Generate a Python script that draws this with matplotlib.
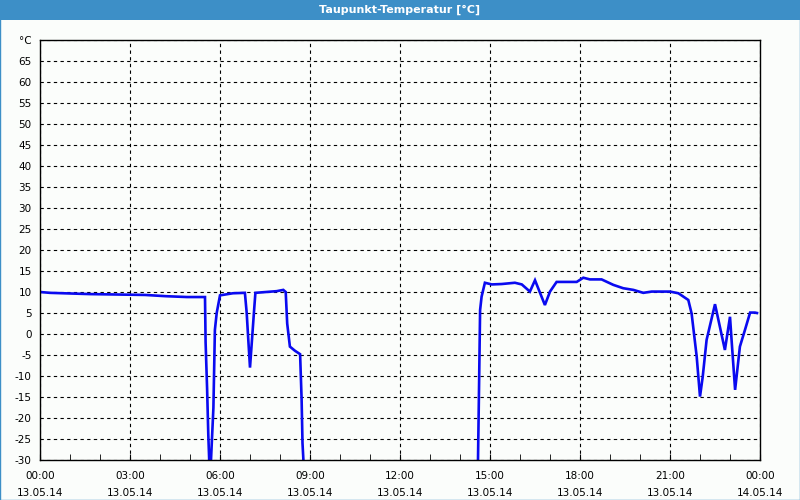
import matplotlib
matplotlib.use("Agg")
import matplotlib.pyplot as plt
from matplotlib.patches import Rectangle
import numpy as np

title = "Taupunkt-Temperatur [°C]"

# segment 1 (hours, °C)
seg1_h = [0.0, 0.33, 1.67, 3.5, 4.2, 4.9, 5.5, 5.52, 5.57, 5.61, 5.64, 5.67,
          5.70, 5.78, 5.83, 5.89, 6.0, 6.43, 6.83, 6.89, 6.94, 7.0, 7.08, 7.14, 7.18,
          7.89, 8.11, 8.19, 8.24, 8.33, 8.5, 8.67, 8.72, 8.75, 8.78, 8.82]
seg1_v = [10.0, 9.8, 9.5, 9.3, 9.0, 8.8, 8.8, -2.0, -13.0, -24.0, -30.0, -40.0,
          -30.0, -17.6, 1.0, 5.0, 9.2, 9.7, 9.8, 5.0, -1.0, -8.0, 0.0, 6.0, 9.8,
          10.2, 10.5, 10.0, 2.5, -3.0, -4.0, -4.8, -15.5, -26.0, -30.0, -40.0]

# segment 2
seg2_h = [14.55, 14.6, 14.63, 14.67, 14.72, 14.83, 15.06, 15.39, 15.83, 16.06, 16.33,
          16.5, 16.83, 17.0, 17.22, 17.89, 18.11, 18.33, 18.72, 19.11, 19.44, 19.78,
          20.11, 20.39, 21.0, 21.28, 21.61, 21.72, 21.89, 22.0, 22.09, 22.22, 22.5,
          22.83, 23.0, 23.06, 23.17, 23.33, 23.5, 23.67, 23.83, 23.9]
seg2_v = [-40.0, -30.0, -15.0, 5.7, 8.9, 12.2, 11.8, 11.9, 12.2, 11.8, 10.1,
          12.8, 6.9, 10.1, 12.4, 12.4, 13.4, 13.0, 13.0, 11.7, 10.9, 10.5,
          9.8, 10.1, 10.1, 9.7, 8.1, 4.9, -5.4, -14.9, -10.2, -1.4, 7.1,
          -3.8, 4.1, -2.2, -13.3, -3.0, 1.0, 5.1, 5.1, 5.0]

y_ticks = list(range(-30, 71, 5))
x_ticks = [0, 3, 6, 9, 12, 15, 18, 21, 24]
x_labels = ["00:00\n13.05.14", "03:00\n13.05.14", "06:00\n13.05.14", "09:00\n13.05.14",
            "12:00\n13.05.14", "15:00\n13.05.14", "18:00\n13.05.14", "21:00\n13.05.14",
            "00:00\n14.05.14"]

bg = "#fbfdfb"
barc = "#3d8fc7"
line_c = "#0a0af0"

fig = plt.figure(figsize=(8, 5), dpi=100, facecolor=bg)
# title bar
fig.patches.append(Rectangle((0, 0.96), 1, 0.04, transform=fig.transFigure,
                             facecolor=barc, edgecolor="none", zorder=0))
fig.patches.append(Rectangle((0.0006, 0.001), 0.9988, 0.998, transform=fig.transFigure,
                             facecolor="none", edgecolor=barc, lw=1.0, zorder=5))
fig.text(0.5, 0.98, title, color="white", ha="center", va="center",
         fontsize=8, fontweight="bold", family="DejaVu Sans")

ax = fig.add_axes([0.05, 0.08, 0.90, 0.84])
ax.set_facecolor(bg)
ax.plot(seg1_h, seg1_v, color=line_c, lw=1.9, solid_joinstyle="miter")
ax.plot(seg2_h, seg2_v, color=line_c, lw=1.9, solid_joinstyle="miter")
ax.set_xlim(0, 24)
ax.set_ylim(-30, 70)

ax.set_yticks(y_ticks)
ylabels = [str(v) for v in y_ticks]
ylabels[-1] = "°C"
ax.set_yticklabels(ylabels)
ax.set_xticks(x_ticks)
ax.set_xticklabels(x_labels, linespacing=1.9)
ax.set_xticks(np.arange(0, 24.01, 1), minor=True)

ax.grid(True, which="major", color="black", ls=(0, (3, 3)), lw=0.8)
ax.tick_params(axis="y", length=0, pad=6, labelsize=7.5)
ax.tick_params(axis="x", which="major", direction="in", length=4, pad=8, labelsize=7.5)
ax.tick_params(axis="x", which="minor", direction="in", length=4)
for s in ax.spines.values():
    s.set_linewidth(1.0)
    s.set_color("black")

fig.savefig("out.png", dpi=100, facecolor=bg)
